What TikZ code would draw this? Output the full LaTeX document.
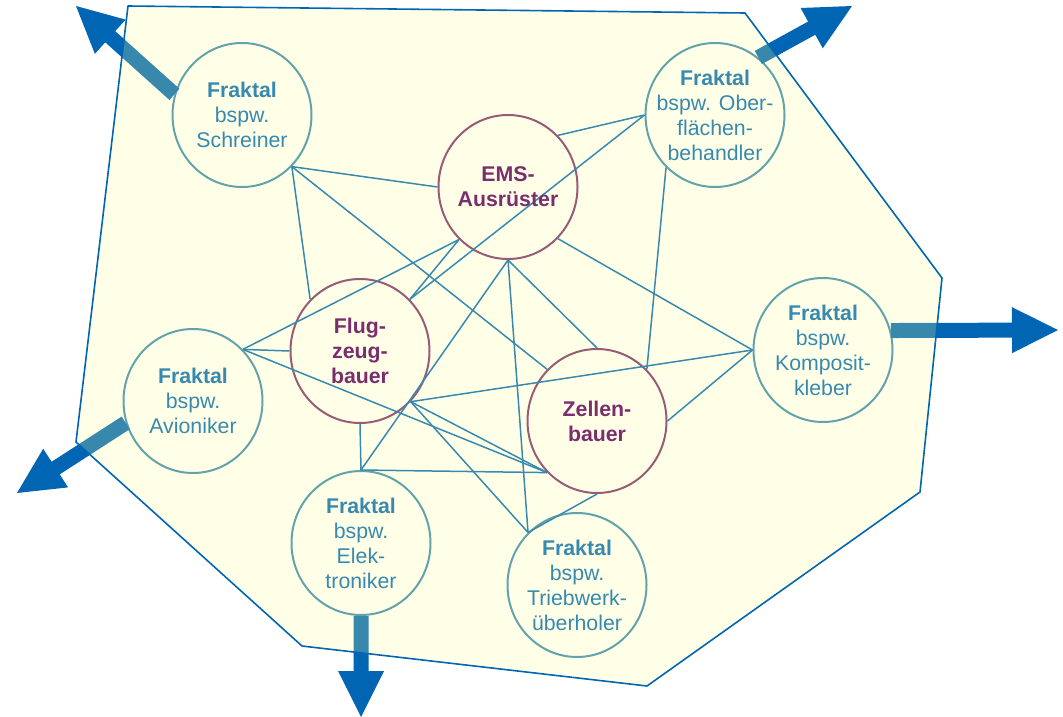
\documentclass[tikz,border=0pt]{standalone}
\usepackage{fontspec}
\setmainfont{Liberation Sans}
\usetikzlibrary{shapes.geometric,calc}
\definecolor{teal1}{RGB}{55,137,176}
\definecolor{purp}{RGB}{122,46,110}
\definecolor{ablue}{RGB}{0,102,179}
\definecolor{polyfill}{RGB}{255,255,150}
\tikzset{
  circ/.style={ellipse,minimum width=139pt,minimum height=144pt,inner sep=0pt,line width=2pt},
  frak/.style={circ,draw=teal1},
  main/.style={circ,draw=purp},
  ftext/.style={align=center,text=teal1,font=\fontsize{21.3}{25}\selectfont,inner sep=0pt},
  mtext/.style={align=center,text=purp,font=\fontsize{21.3}{25}\selectfont\bfseries,inner sep=0pt},
  link/.style={draw=teal1,line width=1.5pt},
  poly/.style={draw=ablue,line width=1.6pt,line join=round}
}
\newcommand\blockarrow[3]{%
  \coordinate (#3-b) at ($(#2)!46pt!(#1)$);
  \fill[ablue] ($(#1)!7.5pt!90:(#2)$) -- ($(#3-b)!7.5pt!90:(#2)$) -- ($(#3-b)!23pt!90:(#2)$)
    -- (#2) -- ($(#3-b)!23pt!-90:(#2)$) -- ($(#3-b)!7.5pt!-90:(#2)$) -- ($(#1)!7.5pt!-90:(#2)$) -- cycle;
}
\begin{document}
\begin{tikzpicture}[x=1pt,y=-1pt]
\useasboundingbox (0,0) rectangle (1063,717);
% circles
\node[frak] (schr) at (242,115) {};
\node[frak] (ober) at (715,115) {};
\node[main] (ems) at (508,187) {};
\node[main] (flug) at (360,351) {};
\node[main] (zell) at (597,421) {};
\node[frak] (avio) at (193,401) {};
\node[frak] (elek) at (361,543) {};
\node[frak] (trieb) at (577,585) {};
\node[frak] (komp) at (823,350) {};
% arrow tips
\coordinate (t1) at (76,6);
\coordinate (t2) at (852,6);
\coordinate (t3) at (1058,330);
\coordinate (t4) at (17,493);
\coordinate (t5) at (361,717);
\blockarrow{schr.163}{t1}{a1}
\blockarrow{ober.53}{t2}{a2}
\blockarrow{komp.16}{t3}{a3}
\blockarrow{avio.198}{t4}{a4}
\blockarrow{elek.-90}{t5}{a5}
% polygon
\coordinate (p1) at (128,6);
\coordinate (p2) at (745,13);
\coordinate (p3) at (942,278);
\coordinate (p4) at (920,492);
\coordinate (p5) at (647,686);
\coordinate (p6) at (302,646);
\coordinate (p7) at (76,442);
\fill[polyfill,fill opacity=0.22] (p1) -- (p2) -- (p3) -- (p4) -- (p5) -- (p6) -- (p7) -- cycle;
\draw[poly] (p1) -- (p2) -- (p3) -- (p4) -- (p5) -- (p6) -- (p7) -- cycle;
% links
\draw[link] (schr.-46) -- (ems.180);
\draw[link] (schr.-46) -- (flug.134);
\draw[link] (schr.-46) -- (zell.134);
\draw[link] (ober.180) -- (ems.46);
\draw[link] (ober.180) -- (flug.46);
\draw[link] (ober.-133) -- (zell.46);
\draw[link] (ems.-133) -- (avio.46);
\draw[link] (ems.-133) -- (flug.46);
\draw[link] (ems.-90) -- (elek.90);
\draw[link] (ems.-90) -- (zell.90);
\draw[link] (ems.-90) -- (trieb.133);
\draw[link] (ems.-46) -- (komp.180);
\draw[link] (avio.46) -- (flug.180);
\draw[link] (avio.46) -- (zell.-134);
\draw[link] (flug.-45) -- (komp.180);
\draw[link] (flug.-45) -- (zell.-134);
\draw[link] (flug.-45) -- (trieb.133);
\draw[link] (flug.-90) -- (elek.90);
\draw[link] (elek.90) -- (zell.-134);
\draw[link] (zell.0) -- (komp.180);
\draw[link] (zell.-90) -- (trieb.133);
% texts
\node[ftext] (schr-t) at (schr) {\textbf{Fraktal}\\bspw.\\Schreiner};
\node[ftext] (ober-t) at (ober) {\textbf{Fraktal}\\bspw. Ober-\\flächen-\\behandler};
\node[mtext] (ems-t) at (ems) {EMS-\\Ausrüster};
\node[mtext] (flug-t) at (flug) {Flug-\\zeug-\\bauer};
\node[mtext] (zell-t) at (zell) {Zellen-\\bauer};
\node[ftext] (avio-t) at (avio) {\textbf{Fraktal}\\bspw.\\Avioniker};
\node[ftext] (elek-t) at (elek) {\textbf{Fraktal}\\bspw.\\Elek-\\troniker};
\node[ftext] (trieb-t) at (trieb) {\textbf{Fraktal}\\bspw.\\Triebwerk-\\überholer};
\node[ftext] (komp-t) at (komp) {\textbf{Fraktal}\\bspw.\\Komposit-\\kleber};
\end{tikzpicture}
\end{document}
